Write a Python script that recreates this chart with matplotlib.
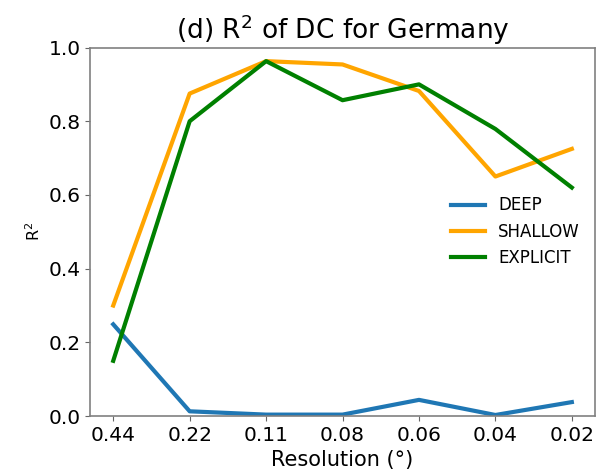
import matplotlib
matplotlib.use("Agg")
import matplotlib.pyplot as plt

# R^2 of DC for Germany at each grid resolution
resolutions = ["0.44", "0.22", "0.11", "0.08", "0.06", "0.04", "0.02"]
deep     = [0.249, 0.013, 0.004, 0.004, 0.044, 0.003, 0.038]
shallow  = [0.300, 0.875, 0.963, 0.954, 0.882, 0.650, 0.725]
explicit = [0.150, 0.800, 0.963, 0.857, 0.900, 0.779, 0.620]

fig = plt.figure(figsize=(6.02, 4.75), dpi=100)
ax = fig.add_axes([0.150, 0.124, 0.838, 0.776])

x = range(len(resolutions))
ax.plot(x, deep,     color="#1f77b4", lw=3, label="DEEP")
ax.plot(x, shallow,  color="#ffa500", lw=3, label="SHALLOW")
ax.plot(x, explicit, color="#008000", lw=3, label="EXPLICIT")

ax.set_xticks(list(x))
ax.set_xticklabels(resolutions)
ax.set_ylim(0, 1.0)
ax.tick_params(labelsize=14.5, color="0.4")
for s in ax.spines.values():
    s.set_color("0.5")
    s.set_linewidth(1.2)

ax.set_title("(d) R$^2$ of DC for Germany", fontsize=19)
ax.set_xlabel("Resolution (°)", fontsize=15)
ax.set_ylabel("R$^2$", fontsize=11.5)
ax.legend(loc="center right", frameon=False, fontsize=12)

fig.savefig("out.png", dpi=100)
